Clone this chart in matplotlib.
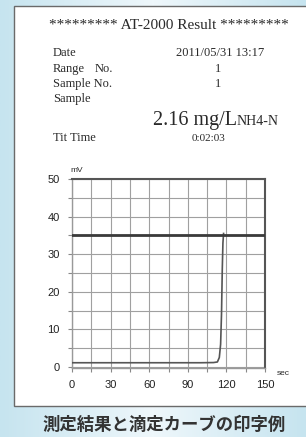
import numpy as np
import matplotlib
matplotlib.use('Agg')
import matplotlib.pyplot as plt
from matplotlib.patches import Rectangle

# data
time_s = [0, 20, 40, 60, 80, 100, 110, 113, 114.5, 115.5, 116.2, 116.8, 117.3, 117.8]
mv = [1.1, 1.1, 1.1, 1.1, 1.1, 1.1, 1.15, 1.3, 2.5, 6, 14, 26, 33, 35.5]
threshold = 35
x_ticks = [0, 30, 60, 90, 120, 150]
y_ticks = [0, 10, 20, 30, 40, 50]

W, H = 306, 437
fig = plt.figure(figsize=(W / 100, H / 100), dpi=100)

# background gradient + paper
bg = fig.add_axes([0, 0, 1, 1], zorder=-1)
gx = np.linspace(0, 1, 200)
grad = np.tile(np.abs(gx - 0.5) * 2, (50, 1))
bg.imshow(grad, cmap=matplotlib.colors.LinearSegmentedColormap.from_list('b', ['#eef7fb', '#c6e4ef']),
          extent=[0, W, H, 0], aspect='auto')
bg.add_patch(Rectangle((14, 6), 300, 400, facecolor='white', edgecolor='#6a6a6a', lw=1.0))
bg.set_xlim(0, W)
bg.set_ylim(H, 0)
bg.axis('off')


def ftext(x, y, s, **kw):
    kw.setdefault('family', 'Liberation Serif')
    kw.setdefault('color', '#2a2a2a')
    fig.text(x / W, 1 - y / H, s, va='baseline', **kw)


ftext(169, 29, '********* AT-2000 Result *********', ha='center', size=11)
ftext(53, 56, 'Date', size=9)
ftext(220, 56, '2011/05/31 13:17', ha='center', size=9)
ftext(53, 72, 'Range', size=9)
ftext(95, 72, 'No.', size=9)
ftext(218, 72, '1', ha='center', size=9)
ftext(53, 87, 'Sample No.', size=9)
ftext(218, 87, '1', ha='center', size=9)
ftext(53, 102, 'Sample', size=9)
ftext(237, 125, '2.16 mg/L', ha='right', size=14.5)
ftext(237, 125, 'NH4-N', ha='left', size=10)
ftext(53, 141, 'Tit Time', size=9)
ftext(208, 141, '0:02:03', ha='center', size=8)

# titration curve
ax = fig.add_axes([72 / W, (H - 368) / H, 193 / W, 189 / H])
ax.plot(time_s, mv, color='#555555', lw=1.2, zorder=3)
ax.axhline(threshold, color='#3a3a3a', lw=2.0, zorder=3)
ax.set_xlim(0, 150)
ax.set_ylim(-0.3, 50)
ax.set_xticks(np.arange(0, 151, 15), minor=False)
ax.set_yticks(np.arange(0, 51, 5))
ax.grid(True, color='#a0a0a0', lw=0.8)
ax.set_xticklabels([str(t) if t in x_ticks else '' for t in np.arange(0, 151, 15)])
ax.set_yticklabels([str(t) if t in y_ticks else '' for t in np.arange(0, 51, 5)])
ax.tick_params(labelsize=8, length=3, color='#888888', labelcolor='#222222', pad=6)
for lab in ax.get_xticklabels() + ax.get_yticklabels():
    lab.set_family('Liberation Sans')
for side in ['top', 'right']:
    ax.spines[side].set_color('#555555')
    ax.spines[side].set_linewidth(1.5)
for side in ['left', 'bottom']:
    ax.spines[side].set_color('#999999')
    ax.spines[side].set_linewidth(1.0)

ftext(70, 172, 'mV', size=6, family='Liberation Sans')
ftext(277, 375, 'sec', size=6, family='Liberation Sans')

fig.text(164 / W, 1 - 425 / H, '測定結果と滴定カーブの印字例', ha='center', va='center',
         family='Noto Sans CJK JP', weight='bold', size=12.5, color='#333333')

fig.savefig('out.png', dpi=100)
